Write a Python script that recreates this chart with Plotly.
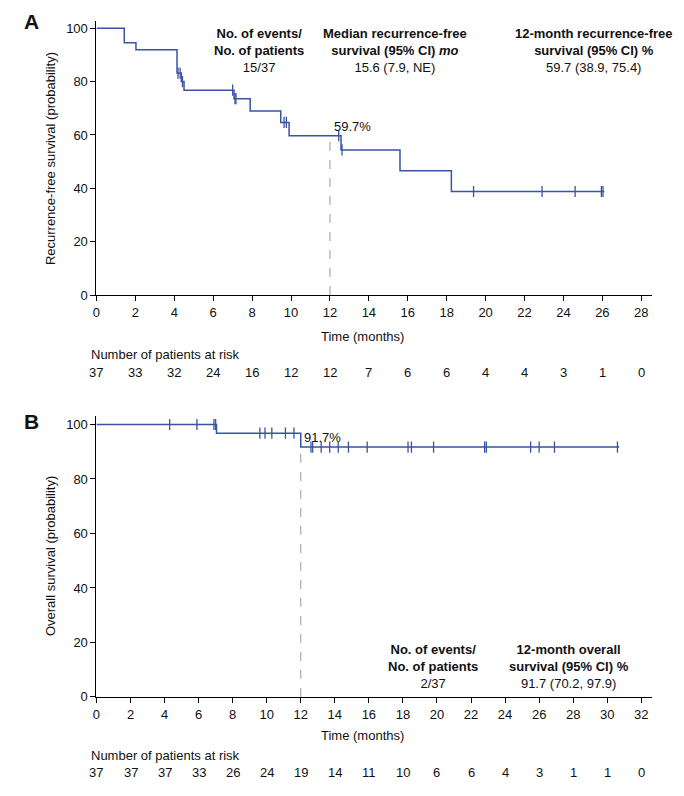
import plotly.graph_objects as go

# ---- panel A: recurrence-free survival ----
rfs_times = [0, 1.43, 2.03, 4.14, 4.36, 4.5, 7.07, 7.9, 9.47, 9.9, 12.57, 15.6, 18.24, 26.1]
rfs_surv = [100, 94.6, 91.9, 83.2, 80.0, 76.8, 73.6, 69.0, 64.7, 59.7, 54.4, 46.6, 38.8, 38.8]
rfs_censor = [4.19, 4.3, 4.42, 7.0, 7.12, 7.17, 9.64, 9.76, 12.45, 12.62,
              19.38, 22.9, 24.6, 25.95, 26.03]
rfs_risk_times = list(range(0, 30, 2))
rfs_risk = [37, 33, 32, 24, 16, 12, 12, 7, 6, 6, 4, 4, 3, 1, 0]

# ---- panel B: overall survival ----
os_times = [0, 7.05, 12.0, 30.7]
os_surv = [100, 96.8, 91.7, 91.7]
os_censor = [4.3, 5.9, 6.9, 7.0, 9.6, 9.9, 10.3, 11.1, 11.6, 12.6, 12.7, 13.2, 13.7,
             14.2, 14.8, 15.9, 18.3, 18.5, 19.8, 22.8, 22.9, 25.5, 26.0, 26.9, 30.6]
os_risk_times = list(range(0, 34, 2))
os_risk = [37, 37, 37, 33, 26, 24, 19, 14, 11, 10, 6, 6, 4, 3, 1, 1, 0]

BLUE = "#3953a4"
FONT = "Arial, Liberation Sans, sans-serif"
W, H = 684, 796


def step_at(t, times, surv):
    val = surv[0]
    for tt, ss in zip(times, surv):
        if tt <= t:
            val = ss
    return val


def px(x):
    return x / W


def py(y):
    return 1 - y / H


fig = go.Figure()

# curves
for times, surv, cens, xa, ya in [
    (rfs_times, rfs_surv, rfs_censor, "x", "y"),
    (os_times, os_surv, os_censor, "x2", "y2"),
]:
    fig.add_trace(go.Scatter(x=times, y=surv, mode="lines", line_shape="hv",
                             line=dict(color=BLUE, width=1.5),
                             xaxis=xa, yaxis=ya, showlegend=False, hoverinfo="skip"))
    fig.add_trace(go.Scatter(x=cens, y=[step_at(c, times, surv) for c in cens],
                             mode="markers",
                             marker=dict(symbol="line-ns-open", size=8, color=BLUE,
                                         line=dict(color=BLUE, width=1.3)),
                             xaxis=xa, yaxis=ya, showlegend=False, hoverinfo="skip"))

# dashed 12-month guide lines
fig.add_trace(go.Scatter(x=[12, 12], y=[0, 59.7], mode="lines",
                         line=dict(color="#9a9a9a", width=1, dash="dash"),
                         xaxis="x", yaxis="y", showlegend=False, hoverinfo="skip"))
fig.add_trace(go.Scatter(x=[12, 12], y=[0, 91.7], mode="lines",
                         line=dict(color="#9a9a9a", width=1, dash="dash"),
                         xaxis="x2", yaxis="y2", showlegend=False, hoverinfo="skip"))

axis_common = dict(showline=True, linecolor="black", linewidth=1, ticks="outside",
                   ticklen=5, tickcolor="black", showgrid=False, zeroline=False,
                   tickfont=dict(family=FONT, size=13, color="#111"))

fig.update_layout(
    width=W, height=H,
    margin=dict(l=0, r=0, t=0, b=0),
    paper_bgcolor="white", plot_bgcolor="white",
    font=dict(family=FONT, size=13, color="#111"),
    xaxis=dict(domain=[px(93), px(652)], range=[0, 28.56], tickvals=rfs_risk_times,
               anchor="y", **axis_common),
    yaxis=dict(domain=[py(298), py(21)], range=[0, 102.8], tickvals=[0, 20, 40, 60, 80, 100],
               anchor="x", **axis_common),
    xaxis2=dict(domain=[px(93), px(652)], range=[0, 32.64], tickvals=os_risk_times,
                anchor="y2", **axis_common),
    yaxis2=dict(domain=[py(704), py(420)], range=[0, 103.2], tickvals=[0, 20, 40, 60, 80, 100],
                anchor="x2", **axis_common),
)

ann = []
# panel letters
ann.append(dict(text="<b>A</b>", x=px(18), y=py(8), xanchor="left", yanchor="top",
                font=dict(size=21)))
ann.append(dict(text="<b>B</b>", x=px(18), y=py(412), xanchor="left", yanchor="top",
                font=dict(size=21)))

# axis titles
for ytitle, yc in [("Recurrence-free survival (probability)", 160),
                   ("Overall survival (probability)", 562)]:
    ann.append(dict(text=ytitle, x=px(47), y=py(yc), textangle=-90,
                    xanchor="center", yanchor="middle"))
for yc in [340, 743]:
    ann.append(dict(text="Time (months)", x=px(361), y=py(yc),
                    xanchor="center", yanchor="middle"))

# header blocks
head_a = [
    (257, "<b>No. of events/<br>No. of patients</b><br>15/37"),
    (393, "<b>Median recurrence-free<br>survival (95% CI) <i>mo</i></b><br>15.6 (7.9, NE)"),
    (593, "<b>12-month recurrence-free<br>survival (95% CI) %</b><br>59.7 (38.9, 75.4)"),
]
for xc, t in head_a:
    ann.append(dict(text=t, x=px(xc), y=py(24), xanchor="center", yanchor="top"))
head_b = [
    (432, "<b>No. of events/<br>No. of patients</b><br>2/37"),
    (568, "<b>12-month overall<br>survival (95% CI) %</b><br>91.7 (70.2, 97.9)"),
]
for xc, t in head_b:
    ann.append(dict(text=t, x=px(xc), y=py(647), xanchor="center", yanchor="top"))

# 12-month labels
ann.append(dict(text="59.7%", x=12.1, y=59.7, xref="x", yref="y",
                xanchor="left", yanchor="bottom", yshift=0))
ann.append(dict(text="91.7%", x=12.1, y=91.7, xref="x2", yref="y2",
                xanchor="left", yanchor="bottom", yshift=0))

# risk tables
for yl, yn, xr, tv, vals in [(358, 376, "x", rfs_risk_times, rfs_risk),
                             (763, 780, "x2", os_risk_times, os_risk)]:
    ann.append(dict(text="Number of patients at risk", x=px(85), y=py(yl),
                    xanchor="left", yanchor="middle"))
    for t, v in zip(tv, vals):
        ann.append(dict(text=str(v), x=t, xref=xr, y=py(yn), yref="paper",
                        xanchor="center", yanchor="middle"))

for a in ann:
    a.setdefault("xref", "paper")
    a.setdefault("yref", "paper")
    a["showarrow"] = False
fig.update_layout(annotations=ann)

# drop the default page margin so the figure sits at the window origin
fig.write_html("out.html", config={"displayModeBar": False},
               post_script="document.body.style.margin='0';"
                           "document.body.style.overflow='hidden';")
